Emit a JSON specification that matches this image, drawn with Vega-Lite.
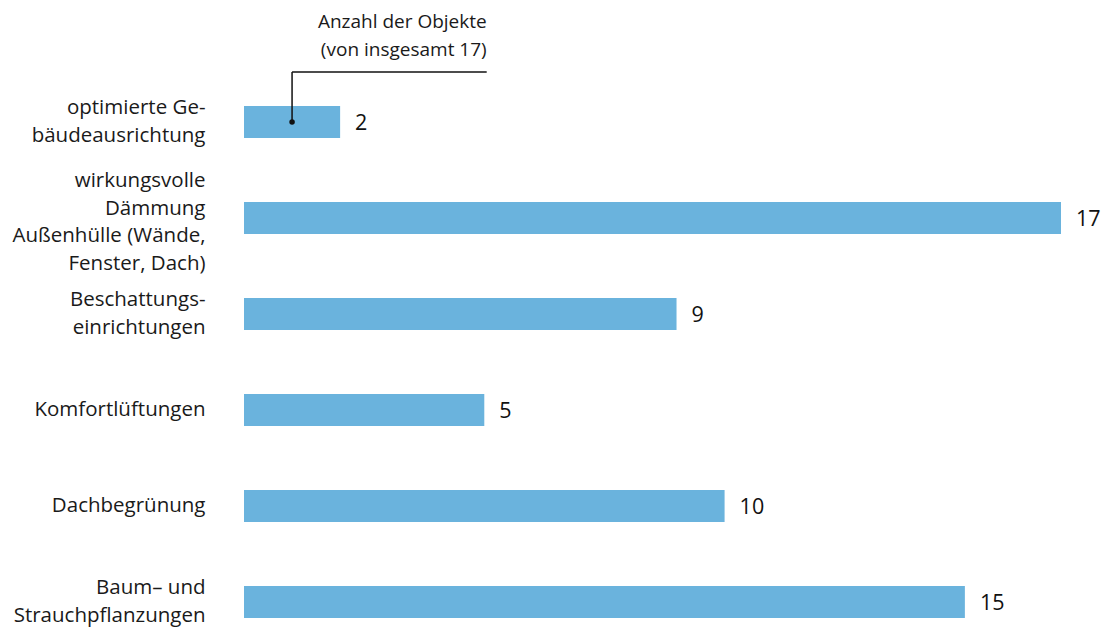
{
  "$schema": "https://vega.github.io/schema/vega-lite/v6.json",
  "width": 817,
  "height": 576,
  "autosize": "none",
  "padding": {"left": 244, "top": 74, "right": 40, "bottom": 0},
  "background": "white",
  "config": {"view": {"stroke": null}, "font": "Open Sans"},
  "datasets": {
    "bars": [
      {"cat": "optimierte Ge-|bäudeausrichtung", "n": 2},
      {"cat": "wirkungsvolle|Dämmung|Außenhülle (Wände,|Fenster, Dach)", "n": 17},
      {"cat": "Beschattungs-|einrichtungen", "n": 9},
      {"cat": "Komfortlüftungen", "n": 5},
      {"cat": "Dachbegrünung", "n": 10},
      {"cat": "Baum– und|Strauchpflanzungen", "n": 15}
    ],
    "note": [
      {"cat": "optimierte Ge-|bäudeausrichtung", "x": 1, "x2": 5.05, "t": ["Anzahl der Objekte", "(von insgesamt 17)"]}
    ]
  },
  "layer": [
    {
      "data": {"name": "bars"},
      "mark": {"type": "bar", "color": "#6ab3dd"},
      "encoding": {
        "y": {
          "field": "cat", "type": "nominal", "sort": null,
          "scale": {"paddingInner": 0.667, "paddingOuter": 0.3335},
          "axis": {
            "title": null, "domain": false, "ticks": false, "labelPadding": 39,
            "labelFontSize": 20.5, "labelLineHeight": 27.7, "labelColor": "#1a1a1a",
            "labelFont": "Open Sans", "labelLimit": 0,
            "labelExpr": "split(datum.label, '|')",
            "labelOffset": {
              "condition": [
                {"test": "length(split(datum.value, '|')) == 2", "value": -14},
                {"test": "length(split(datum.value, '|')) == 4", "value": -37}
              ],
              "value": 0
            }
          }
        },
        "x": {"field": "n", "type": "quantitative", "scale": {"domain": [0, 17], "nice": false}, "axis": null}
      }
    },
    {
      "data": {"name": "bars"},
      "mark": {"type": "text", "align": "left", "dx": 15, "dy": 2, "fontSize": 21.5, "color": "#111111", "baseline": "middle"},
      "encoding": {
        "y": {"field": "cat", "type": "nominal", "sort": null},
        "x": {"field": "n", "type": "quantitative"},
        "text": {"field": "n", "type": "quantitative"}
      }
    },
    {
      "data": {"name": "note"},
      "mark": {"type": "rule", "y2Offset": -50, "strokeWidth": 1.5, "color": "#111111"},
      "encoding": {
        "y": {"field": "cat", "type": "nominal", "sort": null},
        "y2": {"field": "cat"},
        "x": {"field": "x", "type": "quantitative"}
      }
    },
    {
      "data": {"name": "note"},
      "mark": {"type": "rule", "yOffset": -50, "strokeWidth": 1.5, "color": "#111111"},
      "encoding": {
        "y": {"field": "cat", "type": "nominal", "sort": null},
        "x": {"field": "x", "type": "quantitative"},
        "x2": {"field": "x2"}
      }
    },
    {
      "data": {"name": "note"},
      "mark": {"type": "point", "filled": true, "size": 30, "color": "#111111", "opacity": 1},
      "encoding": {
        "y": {"field": "cat", "type": "nominal", "sort": null},
        "x": {"field": "x", "type": "quantitative"}
      }
    },
    {
      "data": {"name": "note"},
      "mark": {"type": "text", "align": "right", "baseline": "middle", "yOffset": -100, "fontSize": 19, "lineHeight": 28, "color": "#1a1a1a"},
      "encoding": {
        "y": {"field": "cat", "type": "nominal", "sort": null},
        "x": {"field": "x2", "type": "quantitative"},
        "text": {"field": "t"}
      }
    }
  ]
}
